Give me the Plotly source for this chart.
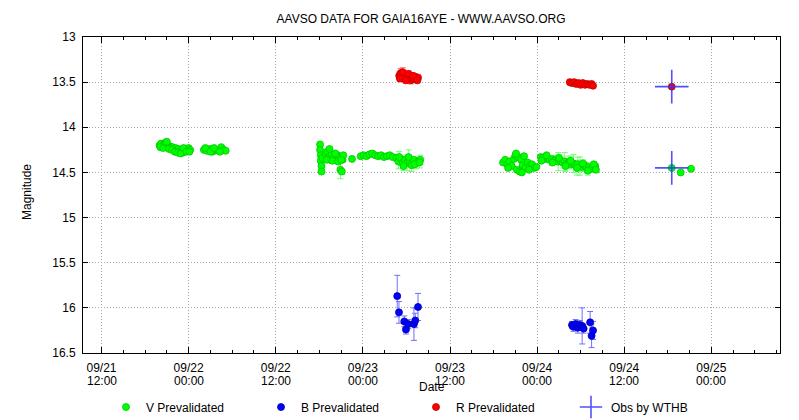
import pandas as pd
import plotly.graph_objects as go

# ---- data (hours after 2016-09-21 12:00, magnitude, error) ----
BASE = "2016-09-21 12:00"

v_hours = [8.0, 8.2, 8.4, 8.6, 8.8, 9.0, 9.2, 9.4, 9.6, 9.8, 10.0, 10.2, 10.4, 10.6, 10.8, 11.0,
           11.2, 11.4, 11.6, 11.8, 12.0, 12.2,
           14.1, 14.5, 14.9, 15.3, 15.7, 16.1, 16.5, 16.8, 17.1,
           30.1, 30.1, 30.2, 30.2, 30.3, 30.3, 30.4, 30.9, 31.1, 31.3, 31.5, 31.7, 31.9, 32.1, 32.3,
           32.5, 32.7, 32.9, 33.1, 33.2, 32.9, 33.3, 34.5,
           35.7, 36.1, 36.5, 36.9, 37.3, 37.7, 38.1, 38.5, 38.9, 39.3, 39.7, 40.1,
           40.6, 40.9, 41.2, 41.5, 41.8, 42.1, 42.4, 42.7, 43.0, 43.3, 43.6, 43.9,
           55.3, 55.6, 55.9, 56.2, 56.5, 56.8, 57.0, 57.2, 57.4, 57.6, 57.8, 58.0, 58.2, 58.4,
           58.7, 59.0, 59.3, 59.6, 59.9,
           60.5, 60.8, 61.1, 61.4, 61.7, 62.0, 62.3, 62.6, 62.9, 63.2, 63.5, 63.8, 64.1, 64.4,
           64.7, 65.0, 65.3, 65.6, 65.9, 66.2, 66.5, 66.8, 67.1, 67.4, 67.7, 68.0,
           78.54, 79.78, 81.2,
           8.1, 8.5, 8.9, 9.3, 9.7, 10.1, 10.5, 10.9, 11.3, 11.7, 12.1, 9.0,
           14.3, 15.0, 15.5, 16.3,
           31.0, 31.4, 31.8, 32.2, 32.6, 33.0,
           41.0, 41.6, 42.3, 43.1, 43.8,
           56.0, 57.1, 57.9, 58.9,
           60.6, 61.3, 62.1, 63.0, 63.9, 64.6, 65.5, 66.3, 67.0, 67.8, 68.1]
v_mag = [14.20, 14.18, 14.21, 14.19, 14.17, 14.20, 14.22, 14.21, 14.23, 14.22, 14.24, 14.23, 14.25, 14.24,
         14.27, 14.25, 14.28, 14.26, 14.24, 14.25, 14.23, 14.25,
         14.25, 14.26, 14.24, 14.27, 14.25, 14.26, 14.22, 14.25, 14.26,
         14.19, 14.25, 14.31, 14.37, 14.43, 14.49, 14.34, 14.30, 14.27, 14.33, 14.36, 14.30, 14.34, 14.32,
         14.35, 14.31, 14.33, 14.47, 14.49, 14.36, 14.33, 14.31, 14.35,
         14.32, 14.31, 14.32, 14.30, 14.29, 14.31, 14.32, 14.31, 14.33, 14.32, 14.31, 14.33,
         14.34, 14.38, 14.35, 14.40, 14.36, 14.39, 14.37, 14.42, 14.36, 14.40, 14.38, 14.36,
         14.39, 14.36, 14.41, 14.38, 14.43, 14.35, 14.31, 14.47, 14.33, 14.49, 14.36, 14.42, 14.32, 14.45,
         14.39, 14.43, 14.41, 14.45, 14.44,
         14.33, 14.34, 14.35, 14.34, 14.36, 14.35, 14.37, 14.36, 14.38, 14.37, 14.39, 14.38, 14.40, 14.39,
         14.41, 14.40, 14.42, 14.41, 14.43, 14.44, 14.42, 14.45, 14.44, 14.46, 14.45, 14.43,
         14.45, 14.50, 14.46,
         14.22, 14.23, 14.17, 14.24, 14.25, 14.27, 14.28, 14.29, 14.23, 14.27, 14.27, 14.16,
         14.23, 14.27, 14.23, 14.27,
         14.36, 14.24, 14.37, 14.29, 14.38, 14.36,
         14.33, 14.43, 14.33, 14.41, 14.39,
         14.45, 14.29, 14.50, 14.47,
         14.37, 14.31, 14.39, 14.34, 14.43, 14.37, 14.45, 14.40, 14.48, 14.41, 14.47]
v_err = [0.01] * 31 + [0.02] * 17 + [0.10, 0.03, 0.02, 0.02, 0.02, 0.02] + [0.01] * 12 + \
        [0.04, 0.08, 0.03, 0.06, 0.04, 0.09, 0.05, 0.07, 0.03, 0.06, 0.04, 0.05] + \
        [0.02] * 19 + \
        [0.02, 0.02, 0.02, 0.02, 0.03, 0.03, 0.04, 0.05, 0.10, 0.04, 0.06, 0.10, 0.05, 0.07,
         0.04, 0.10, 0.05, 0.08, 0.10, 0.05, 0.04, 0.06, 0.03, 0.04, 0.03, 0.03] + \
        [0.01, 0.01, 0.01] + \
        [0.01] * 16 + [0.02] * 6 + [0.06, 0.05, 0.08, 0.04, 0.06] + [0.02] * 4 + \
        [0.02, 0.02, 0.03, 0.04, 0.06, 0.05, 0.08, 0.04, 0.05, 0.03, 0.03]

b_hours = [40.73, 40.97, 41.70, 41.93, 42.25, 43.03, 43.21, 43.59,
           64.8, 65.0, 65.3, 65.6, 65.9, 66.2, 66.4, 67.3, 67.5, 67.7]
b_mag = [15.87, 16.05, 16.15, 16.24, 16.18, 16.18, 16.14, 15.99,
         16.19, 16.21, 16.18, 16.22, 16.19, 16.20, 16.23, 16.16, 16.31, 16.25]
b_err = [0.23, 0.12, 0.06, 0.05, 0.05, 0.18, 0.08, 0.15,
         0.04, 0.05, 0.05, 0.06, 0.05, 0.20, 0.05, 0.12, 0.13, 0.10]

r_hours = [41.0, 41.2, 41.4, 41.6, 41.8, 42.0, 42.2, 42.4, 42.6, 42.8, 43.0, 43.2, 43.4, 43.6,
           41.1, 41.5, 41.9, 42.3, 42.9, 43.5,
           64.5, 64.8, 65.1, 65.4, 65.7, 66.0, 66.3, 66.6, 66.9, 67.2, 67.5, 67.7,
           78.54]
r_mag = [13.43, 13.40, 13.44, 13.42, 13.46, 13.44, 13.47, 13.44, 13.48, 13.45, 13.46, 13.44, 13.47, 13.45,
         13.46, 13.39, 13.48, 13.41, 13.43, 13.48,
         13.50, 13.51, 13.50, 13.52, 13.51, 13.53, 13.51, 13.53, 13.52, 13.53, 13.52, 13.54,
         13.55]
r_err = [0.04, 0.05, 0.03, 0.04, 0.03, 0.04, 0.03, 0.03, 0.04, 0.03, 0.03, 0.03, 0.03, 0.03,
         0.03, 0.05, 0.03, 0.04, 0.03, 0.03,
         0.03, 0.03, 0.02, 0.03, 0.02, 0.02, 0.02, 0.02, 0.02, 0.02, 0.02, 0.02,
         0.01]

w_hours = [78.54, 78.54]
w_mag = [14.45, 13.55]

x_tick_hours = [0, 12, 24, 36, 48, 60, 72, 84]
x_tick_dates = ["09/21", "09/22", "09/22", "09/23", "09/23", "09/24", "09/24", "09/25"]
x_tick_times = ["12:00", "00:00", "12:00", "00:00", "12:00", "00:00", "12:00", "00:00"]
y_ticks = [13, 13.5, 14, 14.5, 15, 15.5, 16, 16.5]
y_tick_labels = ["13", "13.5", "14", "14.5", "15", "15.5", "16", "16.5"]


def to_time(hours):
    return [pd.Timestamp(BASE) + pd.Timedelta(hours=h) for h in hours]


FONT = "Liberation Sans, Arial, Helvetica, sans-serif"
TXT = dict(family=FONT, size=12, color="#000000")
GRID = dict(showgrid=True, gridcolor="#a8a8a8", griddash="1px,2px", gridwidth=1)

fig = go.Figure()


def add_series(name, hours, mag, err, color, line_color, err_color):
    fig.add_trace(go.Scatter(
        x=to_time(hours), y=mag, name=name, mode="markers",
        marker=dict(symbol="circle", size=7, color=color,
                    line=dict(color=line_color, width=0.8)),
        error_y=dict(type="data", array=err, visible=True, color=err_color,
                     thickness=1, width=3),
    ))


add_series("V Prevalidated", v_hours, v_mag, v_err, "#00ff00", "#00c800", "#70ff70")
add_series("B Prevalidated", b_hours, b_mag, b_err, "#0000ff", "#0000a0", "#7070ff")
add_series("R Prevalidated", r_hours, r_mag, r_err, "#ff0000", "#c00000", "#ff7070")

fig.add_trace(go.Scatter(
    x=to_time(w_hours), y=w_mag, name="Obs by WTHB", mode="markers",
    marker=dict(symbol="cross-thin", size=24,
                line=dict(color="rgba(50,50,255,0.85)", width=1.6)),
))

x_range = to_time([-2.55, 93.45])

# second line of the date tick labels (hour of day)
time_annotations = [
    dict(text=t, x=x, xref="x", y=(353 - 381) / 316, yref="paper", showarrow=False,
         xanchor="center", yanchor="middle", font=TXT)
    for x, t in zip(to_time(x_tick_hours), x_tick_times)
]

fig.update_layout(
    width=799, height=420,
    margin=dict(l=83, r=19, t=37, b=67, autoexpand=False),
    paper_bgcolor="white", plot_bgcolor="white",
    font=TXT,
    title=dict(text="AAVSO DATA FOR GAIA16AYE - WWW.AAVSO.ORG", x=0.485, xref="paper",
               xanchor="center", y=1 - 19 / 420, yanchor="middle", font=TXT),
    showlegend=True,
    legend=dict(orientation="h", x=(106 - 83) / 697, xanchor="left", y=-0.171, yanchor="middle",
                entrywidth=110, entrywidthmode="pixels", font=TXT,
                bgcolor="rgba(0,0,0,0)"),
    xaxis=dict(
        type="date", range=x_range, automargin=False,
        tickmode="array", tickvals=to_time(x_tick_hours), ticktext=x_tick_dates,
        ticks="inside", ticklen=6, tickcolor="#000000",
        showline=True, linecolor="#000000", linewidth=1, mirror="allticks",
        zeroline=False, ticklabelstandoff=4,
        minor=dict(tick0=BASE, dtick=3 * 3600 * 1000, ticks="inside", ticklen=3,
                   tickcolor="#000000", showgrid=False),
        **GRID,
    ),
    yaxis=dict(
        range=[16.5, 13], automargin=False,
        tickmode="array", tickvals=y_ticks, ticktext=y_tick_labels,
        ticks="inside", ticklen=5, tickcolor="#000000",
        showline=True, linecolor="#000000", linewidth=1, mirror="allticks",
        zeroline=False, ticklabelstandoff=4,
        **GRID,
    ),
    annotations=time_annotations + [
        dict(text="Magnitude", xref="paper", yref="paper", x=(27 - 83) / 697, y=(353 - 192) / 316,
             textangle=-90, showarrow=False, xanchor="center", yanchor="middle", font=TXT),
        dict(text="Date", xref="paper", yref="paper", x=(432 - 83) / 697, y=(353 - 387) / 316,
             showarrow=False, xanchor="center", yanchor="middle", font=TXT),
    ],
)

fig.write_html("out.html", config={"displayModeBar": False},
               post_script="document.body.style.margin='0';")
